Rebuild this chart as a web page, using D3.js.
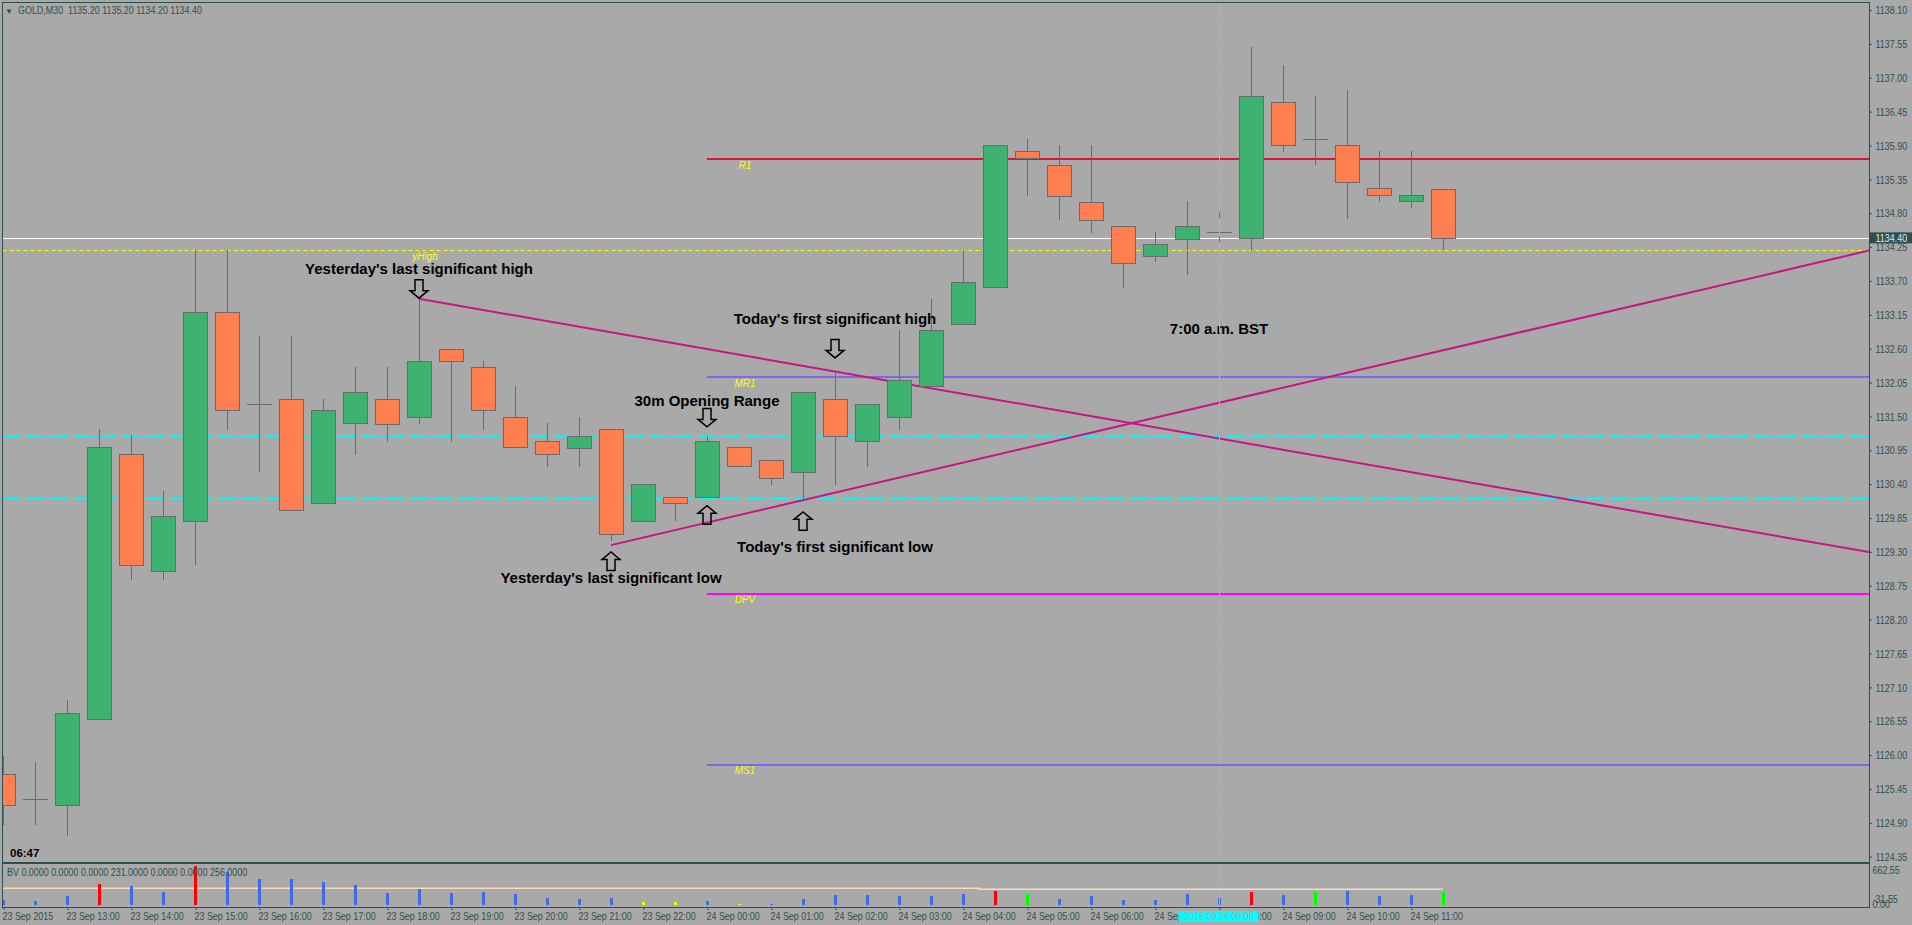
<!DOCTYPE html>
<html><head><meta charset="utf-8">
<script src="https://cdn.jsdelivr.net/npm/d3@7"></script>
<style>
html,body{margin:0;padding:0;background:#A9A9A9;overflow:hidden}
svg{display:block}
.small{font-family:"Liberation Sans",Arial,sans-serif;font-size:10.5px;fill:#2F4F4F}
.note{font-family:"Liberation Sans",Arial,sans-serif;font-weight:bold;font-size:15px;fill:#000}
.lvl{font-family:"Liberation Sans",Arial,sans-serif;font-style:italic;font-size:10px;fill:#FFFF00}
</style></head><body>
<script>
// ---------------- DATA ----------------
const symbolTitle = "GOLD,M30  1135.20 1135.20 1134.20 1134.40";
const times = [
 "23 Sep 12:00","23 Sep 12:30","23 Sep 13:00","23 Sep 13:30","23 Sep 14:00","23 Sep 14:30",
 "23 Sep 15:00","23 Sep 15:30","23 Sep 16:00","23 Sep 16:30","23 Sep 17:00","23 Sep 17:30",
 "23 Sep 18:00","23 Sep 18:30","23 Sep 19:00","23 Sep 19:30","23 Sep 20:00","23 Sep 20:30",
 "23 Sep 21:00","23 Sep 21:30","23 Sep 22:00","23 Sep 22:30",
 "24 Sep 00:00","24 Sep 00:30","24 Sep 01:00","24 Sep 01:30","24 Sep 02:00","24 Sep 02:30",
 "24 Sep 03:00","24 Sep 03:30","24 Sep 04:00","24 Sep 04:30","24 Sep 05:00","24 Sep 05:30",
 "24 Sep 06:00","24 Sep 06:30","24 Sep 07:00","24 Sep 07:30","24 Sep 08:00","24 Sep 08:30",
 "24 Sep 09:00","24 Sep 09:30","24 Sep 10:00","24 Sep 10:30","24 Sep 11:00","24 Sep 11:30"];
const open  = [1125.69,1125.28,1125.19,1126.58,1130.89,1128.99,1129.80,1133.19,1131.70,1131.79,
               1130.09,1131.39,1131.79,1131.49,1132.59,1132.30,1131.49,1131.10,1131.00,1131.29,
               1129.80,1130.19,1130.19,1131.00,1130.79,1130.59,1131.79,1131.10,1131.49,1131.99,
               1133.00,1133.60,1135.81,1135.59,1134.99,1134.60,1134.10,1134.39,1134.49,1134.39,
               1136.60,1136.00,1135.90,1135.21,1134.99,1135.20];
const high  = [1125.99,1125.88,1126.90,1131.30,1131.20,1130.29,1134.20,1134.20,1132.81,1132.81,
               1131.79,1132.30,1132.30,1133.41,1132.59,1132.40,1131.99,1131.39,1131.49,1131.29,
               1130.40,1130.19,1131.19,1131.00,1130.79,1131.89,1132.20,1131.70,1132.90,1133.41,
               1134.20,1135.90,1136.00,1135.91,1135.91,1134.60,1134.50,1135.00,1134.90,1137.50,
               1137.21,1136.70,1136.80,1135.81,1135.81,1135.20];
const low   = [1124.87,1124.87,1124.68,1126.58,1128.85,1128.85,1129.08,1131.28,1130.59,1129.99,
               1130.09,1130.88,1131.09,1131.38,1131.09,1131.28,1131.00,1130.68,1130.68,1129.48,
               1129.80,1129.80,1130.19,1130.69,1130.39,1130.16,1130.39,1130.68,1131.28,1131.99,
               1133.00,1133.60,1135.08,1134.69,1134.48,1133.59,1134.00,1133.79,1134.04,1134.19,
               1135.80,1135.59,1134.70,1134.99,1134.89,1134.20];
const close = [1125.19,1125.28,1126.68,1131.00,1129.08,1129.89,1133.19,1131.60,1131.70,1129.99,
               1131.60,1131.89,1131.39,1132.40,1132.40,1131.60,1131.00,1130.89,1131.19,1129.59,
               1130.40,1130.09,1131.10,1130.69,1130.50,1131.89,1131.19,1131.70,1132.09,1132.90,
               1133.69,1135.90,1135.69,1135.09,1134.70,1134.00,1134.30,1134.60,1134.49,1136.70,
               1135.90,1136.00,1135.30,1135.09,1135.09,1134.40];
const volume = [97,77,174,406,367,251,753,632,502,502,
                444,386,232,309,232,251,213,135,116,135,
                58,58,77,19,19,116,193,193,174,174,
                213,270,213,116,174,97,97,213,135,251,
                193,251,270,174,193,256];
// BV classes: N normal, C climax, L low volume, H churn
const volumeClass = ["N","N","N","C","N","N","C","N","N","N",
                     "N","N","N","N","N","N","N","N","N","N",
                     "L","L","N","L","N","N","N","N","N","N",
                     "N","C","H","N","N","N","N","N","N","C",
                     "N","H","N","N","N","H"];
const avgVolume = [323,323,323,323,323,323,323,323,323,323,
                   323,323,323,323,323,323,323,323,323,323,
                   323,323,323,323,323,323,323,323,323,323,
                   323,303,303,303,303,303,303,303,303,303,
                   303,303,303,303,303,303];
const bvHeader = "BV 0.0000 0.0000 0.0000 231.0000 0.0000 0.0000 256.0000";
const bvAxisLabels = ["662.55","31.55","0.00"];

const priceTicks = [1138.10,1137.55,1137.00,1136.45,1135.90,1135.35,1134.80,1134.25,1133.70,1133.15,
                    1132.60,1132.05,1131.50,1130.95,1130.40,1129.85,1129.30,1128.75,1128.20,1127.65,
                    1127.10,1126.55,1126.00,1125.45,1124.90,1124.35];
const tickTimes  = ["23 Sep 12:00","23 Sep 13:00","23 Sep 14:00","23 Sep 15:00","23 Sep 16:00","23 Sep 17:00",
                    "23 Sep 18:00","23 Sep 19:00","23 Sep 20:00","23 Sep 21:00","23 Sep 22:00",
                    "24 Sep 00:00","24 Sep 01:00","24 Sep 02:00","24 Sep 03:00","24 Sep 04:00","24 Sep 05:00",
                    "24 Sep 06:00","24 Sep 07:00","24 Sep 08:00","24 Sep 09:00","24 Sep 10:00","24 Sep 11:00"];
const tickLabels = ["23 Sep 2015","23 Sep 13:00","23 Sep 14:00","23 Sep 15:00","23 Sep 16:00","23 Sep 17:00",
                    "23 Sep 18:00","23 Sep 19:00","23 Sep 20:00","23 Sep 21:00","23 Sep 22:00",
                    "24 Sep 00:00","24 Sep 01:00","24 Sep 02:00","24 Sep 03:00","24 Sep 04:00","24 Sep 05:00",
                    "24 Sep 06:00","24 Sep 07:00","24 Sep 08:00","24 Sep 09:00","24 Sep 10:00","24 Sep 11:00"];

// pivot levels (drawn from the day start)
const pivotNames  = ["R1","MR1","DPV","MS1"];
const pivotValues = [1135.68,1132.14,1128.62,1125.84];
const pivotStart  = "24 Sep 00:00";
const yHighValue = 1134.20;
const bidValue = 1134.40;
const openingRange = [1131.19,1130.17];

// trend lines: [time, price] anchors, extended to the right
const trendStart = [["23 Sep 18:30",1133.41],["23 Sep 21:30",1129.41]];
const trendEnd   = [["24 Sep 02:00",1132.23],["24 Sep 01:30",1130.14]];

// annotations
const arrowTimes  = ["23 Sep 18:30","23 Sep 21:30","24 Sep 00:00","24 Sep 00:00","24 Sep 02:00","24 Sep 01:30"];
const arrowPrices = [1133.42,1129.30,1131.33,1130.05,1132.45,1129.95];
const arrowDirs   = ["down","up","down","up","down","up"];
const noteTexts  = ["Yesterday's last significant high","Yesterday's last significant low","30m Opening Range",
                    "Today's first significant high","Today's first significant low","7:00 a.m. BST"];
const noteTimes  = ["23 Sep 18:30","23 Sep 21:30","24 Sep 00:00","24 Sep 02:00","24 Sep 02:00","24 Sep 08:00"];
const notePrices = [1133.89,1128.88,1131.75,1133.08,1129.39,1132.92];
const timerText = "06:47";
const cursorTime = "24 Sep 08:00";
const cursorLabel = "2015.09.24 08:00";

// ---------------- CHART ----------------
const W = 1912, H = 925;
const P = {left: 2.5, top: 2.5, right: 1869, bottom: 861.5};
const IND = {top: 863.5, bottom: 906.5};
const idx = t => times.indexOf(t);
const x = d3.scaleLinear().domain([0, times.length - 1]).range([3, 1443]);
const y = d3.scaleLinear().domain([1124.35, 1138.10]).range([856.7, 10]);
const vy = d3.scaleLinear().domain([0, 662.55]).range([905, 870.7]);

const C = {bg:"#A9A9A9", fg:"#2F4F4F", up:"#3CB371", down:"#FF7F50", wick:"#6B6B6B",
           trend:"#C71585", cyan:"#00FFFF"};
const pivotColor = {R1:"#DC143C", MR1:"#7B68EE", DPV:"#FF00FF", MS1:"#7B68EE"};
const volColor = d3.scaleOrdinal().domain(["N","C","L","H"]).range(["#4169E1","#FF0000","#FFFF00","#00FF00"]);

const svg = d3.select("body").append("svg").attr("width", W).attr("height", H);
svg.append("rect").attr("width", W).attr("height", H).attr("fill", C.bg);
const defs = svg.append("defs");
defs.append("clipPath").attr("id", "clipMain").append("rect")
  .attr("x", P.left).attr("y", P.top).attr("width", P.right - P.left).attr("height", P.bottom - P.top);
defs.append("clipPath").attr("id", "clipInd").append("rect")
  .attr("x", P.left).attr("y", IND.top).attr("width", P.right - P.left).attr("height", IND.bottom - IND.top);

const main = svg.append("g").attr("clip-path", "url(#clipMain)");
const xRight = x.invert(P.right);

// full-width horizontal lines
function hline(v, color, dash, w) {
  main.append("line").attr("x1", P.left).attr("x2", P.right)
    .attr("y1", Math.round(y(v)) + 0.5).attr("y2", Math.round(y(v)) + 0.5)
    .attr("stroke", color).attr("stroke-width", w || 1)
    .attr("stroke-dasharray", dash || null);
}
hline(yHighValue, "#FFFF00", "4,3");
openingRange.forEach(v => hline(v, C.cyan, "18,6"));
hline(bidValue, "#FFFFFF");

// pivots
main.selectAll("line.pivot").data(pivotNames).enter().append("line").attr("class", "pivot")
  .attr("x1", x(idx(pivotStart))).attr("x2", P.right)
  .attr("y1", (d, i) => Math.round(y(pivotValues[i]))).attr("y2", (d, i) => Math.round(y(pivotValues[i])))
  .attr("stroke", d => pivotColor[d]).attr("stroke-width", 2);

// trend lines
trendStart.forEach((s, i) => {
  const i0 = idx(s[0]), i1 = idx(trendEnd[i][0]);
  const slope = (trendEnd[i][1] - s[1]) / (i1 - i0);
  const pEnd = s[1] + slope * (xRight - i0);
  main.append("line").attr("x1", x(i0)).attr("y1", y(s[1])).attr("x2", x(xRight)).attr("y2", y(pEnd))
    .attr("stroke", C.trend).attr("stroke-width", 2);
});

// candles
const bars = d3.range(times.length);
const cg = main.append("g").attr("shape-rendering", "crispEdges");
cg.selectAll("line.wick").data(bars).enter().append("line")
  .attr("x1", i => x(i) + 0.5).attr("x2", i => x(i) + 0.5)
  .attr("y1", i => y(high[i])).attr("y2", i => y(low[i]))
  .attr("stroke", C.wick).attr("stroke-width", 1);
cg.selectAll("rect.body").data(bars.filter(i => open[i] !== close[i])).enter().append("rect")
  .attr("x", i => x(i) - 12 + 0.5).attr("width", 24)
  .attr("y", i => Math.round(y(Math.max(open[i], close[i]))) + 0.5)
  .attr("height", i => Math.max(1, Math.round(Math.abs(y(open[i]) - y(close[i])))))
  .attr("fill", i => close[i] > open[i] ? C.up : C.down)
  .attr("stroke", C.wick).attr("stroke-width", 1);
cg.selectAll("line.doji").data(bars.filter(i => open[i] === close[i])).enter().append("line")
  .attr("x1", i => x(i) - 12).attr("x2", i => x(i) + 13)
  .attr("y1", i => Math.round(y(open[i])) + 0.5).attr("y2", i => Math.round(y(open[i])) + 0.5)
  .attr("stroke", C.wick).attr("stroke-width", 1);

// level labels
main.selectAll("text.pl").data(pivotNames).enter().append("text").attr("class", "lvl")
  .attr("x", x(idx(pivotStart)) + 38).attr("y", (d, i) => y(pivotValues[i]) + 6)
  .attr("dy", "0.35em").attr("text-anchor", "middle").text(d => d);
main.append("text").attr("class", "lvl").attr("x", 425).attr("y", y(yHighValue) + 6)
  .attr("dy", "0.35em").attr("text-anchor", "middle").text("yHigh");

// arrows
const arrowPath = "M-4,-18.5L4,-18.5L4,-7.5L9,-7.5L0,0L-9,-7.5L-4,-7.5Z";
main.selectAll("path.arrow").data(arrowDirs).enter().append("path")
  .attr("d", arrowPath)
  .attr("transform", (d, i) => `translate(${x(idx(arrowTimes[i]))},${y(arrowPrices[i])})` + (d === "up" ? " scale(1,-1)" : ""))
  .attr("fill", "none").attr("stroke", "#000").attr("stroke-width", 1.5);

// notes
main.selectAll("text.note").data(noteTexts).enter().append("text").attr("class", "note")
  .attr("x", (d, i) => x(idx(noteTimes[i]))).attr("y", (d, i) => y(notePrices[i]))
  .attr("dy", "0.35em").attr("text-anchor", "middle").text(d => d);

main.append("text").attr("class", "note").style("font-size", "11.5px")
  .attr("x", 10).attr("y", 853).attr("dy", "0.35em").text(timerText);

// ---------------- indicator window ----------------
const ind = svg.append("g").attr("clip-path", "url(#clipInd)");
ind.append("path").datum(bars)
  .attr("d", d3.line().x(i => x(i)).y(i => vy(avgVolume[i])).curve(d3.curveStep))
  .attr("fill", "none").attr("stroke", "#FFDAB9").attr("stroke-width", 1.5);
ind.selectAll("rect.vol").data(bars).enter().append("rect")
  .attr("x", i => x(i) - 1).attr("width", 3)
  .attr("y", i => vy(volume[i])).attr("height", i => vy(0) - vy(volume[i]))
  .attr("fill", i => volColor(volumeClass[i])).attr("shape-rendering", "crispEdges");
svg.append("text").attr("class", "small").attr("x", 7).attr("y", 872.3).attr("dy", "0.35em").text(bvHeader);

// cursor vertical line
svg.append("line").attr("x1", x(idx(cursorTime)) + 0.5).attr("x2", x(idx(cursorTime)) + 0.5)
  .attr("y1", P.top).attr("y2", 908).attr("stroke", C.cyan).attr("stroke-width", 1)
  .attr("stroke-dasharray", "18,6");

// ---------------- frames ----------------
const fr = svg.append("g").attr("fill", "none").attr("stroke", C.fg).attr("stroke-width", 1).attr("shape-rendering", "crispEdges");
fr.append("rect").attr("x", 2).attr("y", 2).attr("width", P.right - 2).attr("height", 860);
fr.append("rect").attr("x", 2).attr("y", 863).attr("width", P.right - 2).attr("height", 44);

// price axis
const ya = svg.append("g").attr("transform", `translate(${P.right},0)`)
  .call(d3.axisRight(y).tickValues(priceTicks).tickSize(3).tickFormat(d3.format(".2f")));
ya.select(".domain").remove();
ya.selectAll("line").attr("stroke", C.fg);
ya.selectAll("text").attr("class", "small").attr("x", 6.5).attr("dy", "0.35em").attr("fill", null);
ya.attr("font-family", null).attr("font-size", null);

// bid price box
svg.append("rect").attr("x", 1870).attr("y", y(bidValue) - 5.5).attr("width", 42).attr("height", 11).attr("fill", C.fg);
svg.append("text").attr("class", "small").attr("x", 1875.5).attr("y", y(bidValue)).attr("dy", "0.35em")
  .style("fill", "#E6E6E6").text(d3.format(".2f")(bidValue));

// indicator axis labels
svg.selectAll("text.bva").data(bvAxisLabels).enter().append("text").attr("class", "small")
  .attr("x", (d, i) => i === 1 ? 1875.5 : 1872.5).attr("y", (d, i) => [870.7, 899.3, 904.3][i])
  .attr("dy", "0.35em").text(d => d);

// time axis
const xa = svg.append("g").attr("transform", "translate(0,907)")
  .call(d3.axisBottom(x).tickValues(tickTimes.map(idx)).tickSize(3).tickFormat((d, i) => tickLabels[i]));
xa.select(".domain").remove();
xa.selectAll("line").attr("stroke", C.fg).attr("transform", "translate(0.5,0)");
xa.selectAll("text").attr("class", "small").attr("text-anchor", "start").attr("x", -1).attr("y", 9.8).attr("dy", "0.35em")
  .attr("fill", null);
xa.attr("font-family", null).attr("font-size", null);

// cursor time label
const cx = x(idx(cursorTime));
svg.append("rect").attr("x", cx - 40.5).attr("y", 911).attr("width", 80).attr("height", 11).attr("fill", C.cyan);
svg.append("text").attr("class", "small").attr("x", cx).attr("y", 916.5).attr("dy", "0.35em")
  .attr("text-anchor", "middle").style("fill", "#9AAFAF").text(cursorLabel);

// header
svg.append("text").attr("class", "small").attr("x", 5).attr("y", 10.7).attr("dy", "0.35em").style("font-size", "8px").text("▼");
svg.append("text").attr("class", "small").attr("x", 18).attr("y", 10.7).attr("dy", "0.35em")
  .style("white-space", "pre").text(symbolTitle);

// condensed look of the terminal's small font
svg.selectAll("text.small").each(function () {
  const L = this.getComputedTextLength();
  if (L > 10) d3.select(this).attr("textLength", L * 0.85).attr("lengthAdjust", "spacingAndGlyphs");
});
</script>
</body></html>
